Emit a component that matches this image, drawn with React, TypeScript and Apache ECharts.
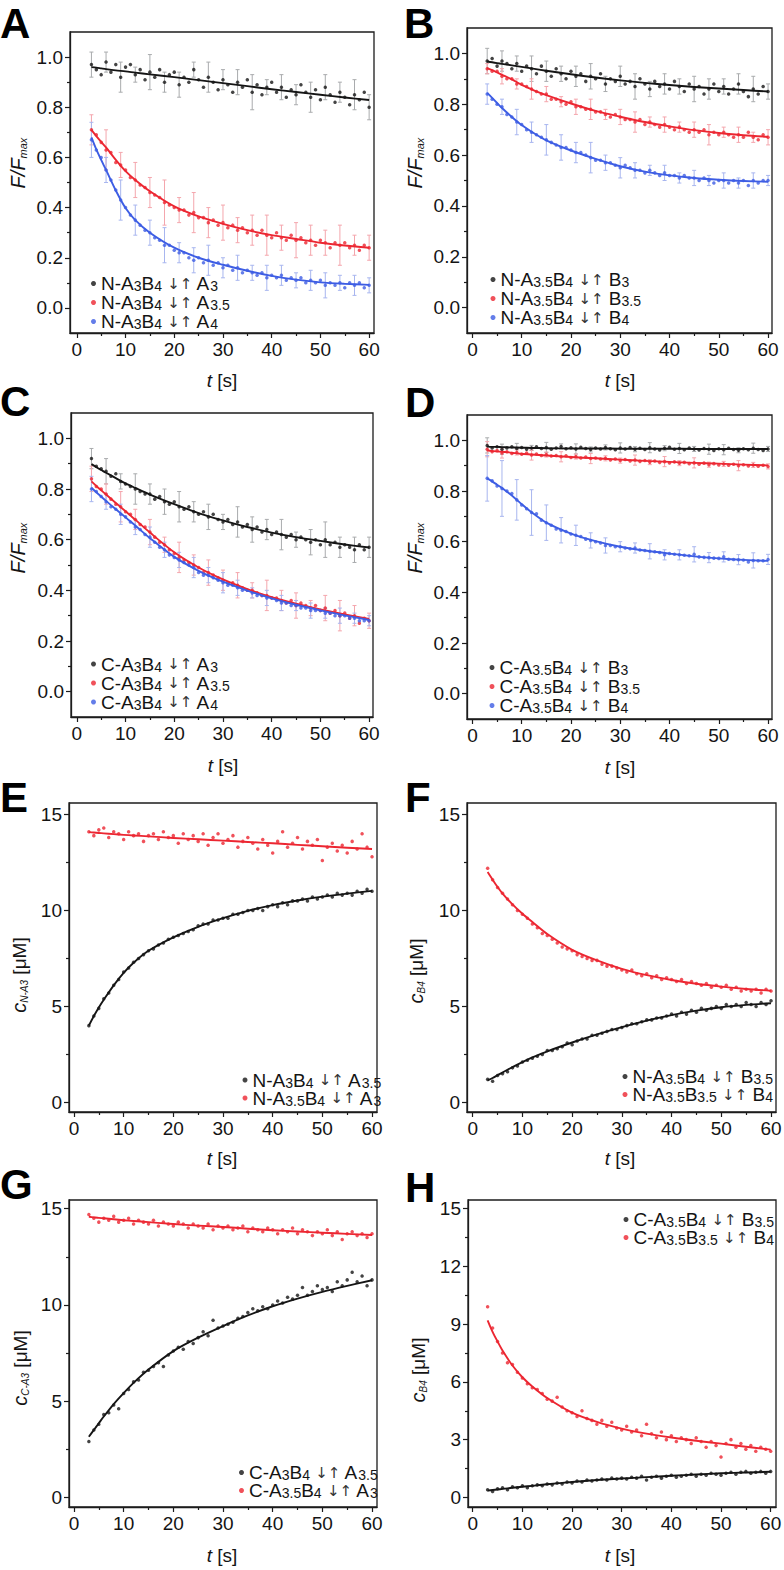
import React, { useEffect, useRef } from "react";
import * as echarts from "echarts";

const FONT = "'Liberation Sans', Arial, Helvetica, sans-serif";
const AXIS_COLOR = "#1c1c1c";
const LABEL_COLOR = "#141414";
const BLACK = "#151515";
const RED = "#ec2631";
const BLUE = "#3d5de4";
const BLACK_ERR = "#a9abad";
const RED_ERR = "#f4a6ad";
const BLUE_ERR = "#a8b6ef";

// time points of the measured data (s)
const T = [3, 4, 5, 6, 7, 8, 9, 10, 11, 12, 13, 14, 15, 16, 17, 18, 19, 20, 21, 22, 23, 24, 25, 26, 27, 28, 29, 30, 31, 32, 33, 34, 35, 36, 37, 38, 39, 40, 41, 42, 43, 44, 45, 46, 47, 48, 49, 50, 51, 52, 53, 54, 55, 56, 57, 58, 59, 60];
// time points at which the fitted curves are read
const FIT_T = [3, 4, 5, 6, 8, 10, 12, 15, 20, 25, 30, 35, 40, 45, 50, 55, 60];

const X_TICKS = [0, 10, 20, 30, 40, 50, 60];
const X_MINOR = [5, 15, 25, 35, 45, 55];
const Y_TICKS_F = [0, 0.2, 0.4, 0.6, 0.8, 1.0];
const Y_MINOR_F = [0.1, 0.3, 0.5, 0.7, 0.9];
const Y_TICKS_C = [0, 5, 10, 15];
const Y_MINOR_C = [2.5, 7.5, 12.5];
const Y_TICKS_H = [0, 3, 6, 9, 12, 15];
const Y_MINOR_H = [1.5, 4.5, 7.5, 10.5, 13.5];

// ---------- Panel A ----------
const A_BLACK = [0.97, 0.95, 0.93, 0.98, 0.94, 0.97, 0.92, 0.96, 0.97, 0.93, 0.95, 0.91, 0.94, 0.92, 0.95, 0.90, 0.93, 0.94, 0.89, 0.92, 0.90, 0.95, 0.91, 0.88, 0.92, 0.90, 0.87, 0.91, 0.89, 0.86, 0.90, 0.88, 0.91, 0.86, 0.89, 0.85, 0.88, 0.90, 0.86, 0.88, 0.84, 0.87, 0.85, 0.89, 0.86, 0.84, 0.87, 0.83, 0.88, 0.85, 0.82, 0.86, 0.84, 0.81, 0.85, 0.83, 0.86, 0.80];
const A_RED = [0.71, 0.69, 0.66, 0.63, 0.62, 0.58, 0.57, 0.55, 0.52, 0.51, 0.49, 0.48, 0.46, 0.45, 0.44, 0.42, 0.41, 0.40, 0.39, 0.39, 0.37, 0.38, 0.36, 0.36, 0.34, 0.35, 0.33, 0.34, 0.32, 0.33, 0.31, 0.32, 0.30, 0.31, 0.29, 0.31, 0.29, 0.28, 0.30, 0.28, 0.27, 0.29, 0.27, 0.28, 0.26, 0.27, 0.25, 0.27, 0.26, 0.24, 0.26, 0.25, 0.26, 0.24, 0.25, 0.23, 0.25, 0.24];
const A_BLUE = [0.67, 0.63, 0.60, 0.55, 0.51, 0.47, 0.43, 0.40, 0.37, 0.35, 0.33, 0.31, 0.30, 0.28, 0.27, 0.25, 0.25, 0.23, 0.22, 0.22, 0.20, 0.19, 0.20, 0.18, 0.19, 0.17, 0.18, 0.16, 0.17, 0.15, 0.16, 0.14, 0.15, 0.14, 0.13, 0.14, 0.12, 0.13, 0.12, 0.13, 0.11, 0.12, 0.11, 0.12, 0.10, 0.11, 0.10, 0.11, 0.09, 0.10, 0.09, 0.10, 0.08, 0.10, 0.09, 0.10, 0.08, 0.09];
const A_BLACK_FIT = [0.960, 0.958, 0.955, 0.952, 0.947, 0.943, 0.938, 0.931, 0.920, 0.908, 0.896, 0.884, 0.872, 0.861, 0.850, 0.839, 0.829];
const A_RED_FIT = [0.71, 0.685, 0.662, 0.64, 0.59, 0.545, 0.51, 0.465, 0.405, 0.365, 0.335, 0.31, 0.29, 0.275, 0.26, 0.249, 0.24];
const A_BLUE_FIT = [0.68, 0.632, 0.59, 0.55, 0.468, 0.398, 0.35, 0.30, 0.24, 0.20, 0.172, 0.148, 0.128, 0.113, 0.102, 0.096, 0.092];
const A_BLACK_ERR = [0.05, 0.04, 0.06, 0.03, 0.07, 0.04, 0.05, 0.03, 0.06, 0.04, 0.05, 0.07, 0.03, 0.05, 0.04, 0.06, 0.05, 0.04, 0.06, 0.05];
const A_RED_ERR = [0.06, 0.08, 0.05, 0.07, 0.06, 0.09, 0.05, 0.08, 0.06, 0.07, 0.05, 0.06, 0.08, 0.05, 0.07, 0.06, 0.05, 0.08, 0.04, 0.05];
const A_BLUE_ERR = [0.07, 0.05, 0.08, 0.06, 0.05, 0.07, 0.04, 0.05, 0.06, 0.04, 0.05, 0.03, 0.05, 0.04, 0.03, 0.04, 0.05, 0.03, 0.04, 0.03];

// ---------- Panel B ----------
const B_BLACK = [0.97, 0.98, 0.95, 0.97, 0.96, 0.94, 0.96, 0.93, 0.95, 0.94, 0.92, 0.95, 0.93, 0.91, 0.94, 0.92, 0.90, 0.93, 0.91, 0.92, 0.89, 0.91, 0.90, 0.92, 0.88, 0.90, 0.89, 0.91, 0.88, 0.89, 0.87, 0.90, 0.88, 0.86, 0.89, 0.87, 0.88, 0.86, 0.89, 0.87, 0.85, 0.88, 0.86, 0.87, 0.84, 0.86, 0.88, 0.85, 0.87, 0.84, 0.86, 0.88, 0.85, 0.83, 0.86, 0.84, 0.87, 0.85];
const B_RED = [0.94, 0.93, 0.93, 0.91, 0.90, 0.90, 0.88, 0.88, 0.87, 0.86, 0.85, 0.84, 0.84, 0.82, 0.82, 0.81, 0.80, 0.81, 0.79, 0.79, 0.78, 0.78, 0.77, 0.77, 0.76, 0.75, 0.76, 0.75, 0.74, 0.74, 0.73, 0.74, 0.72, 0.73, 0.72, 0.71, 0.72, 0.71, 0.70, 0.71, 0.70, 0.69, 0.70, 0.69, 0.70, 0.68, 0.69, 0.68, 0.69, 0.68, 0.67, 0.68, 0.67, 0.69, 0.67, 0.66, 0.68, 0.67];
const B_BLUE = [0.84, 0.82, 0.80, 0.79, 0.76, 0.75, 0.73, 0.72, 0.70, 0.69, 0.68, 0.67, 0.66, 0.65, 0.64, 0.63, 0.63, 0.62, 0.61, 0.61, 0.60, 0.59, 0.58, 0.58, 0.57, 0.57, 0.56, 0.55, 0.56, 0.55, 0.54, 0.54, 0.53, 0.54, 0.53, 0.52, 0.53, 0.52, 0.52, 0.51, 0.52, 0.51, 0.51, 0.50, 0.51, 0.50, 0.49, 0.50, 0.50, 0.49, 0.50, 0.49, 0.50, 0.48, 0.50, 0.49, 0.50, 0.50];
const B_BLACK_FIT = [0.968, 0.965, 0.962, 0.959, 0.953, 0.947, 0.941, 0.932, 0.918, 0.905, 0.894, 0.884, 0.876, 0.868, 0.862, 0.856, 0.85];
const B_RED_FIT = [0.942, 0.934, 0.925, 0.916, 0.898, 0.876, 0.859, 0.836, 0.803, 0.774, 0.751, 0.73, 0.713, 0.698, 0.687, 0.678, 0.672];
const B_BLUE_FIT = [0.845, 0.825, 0.805, 0.785, 0.75, 0.718, 0.692, 0.658, 0.618, 0.585, 0.556, 0.535, 0.52, 0.51, 0.503, 0.498, 0.495];
const B_BLACK_ERR = [0.05, 0.04, 0.03, 0.05, 0.04, 0.03, 0.04, 0.05, 0.03, 0.04, 0.05, 0.03, 0.04, 0.03, 0.05, 0.04, 0.03, 0.04, 0.05, 0.03];
const B_RED_ERR = [0.02, 0.03, 0.02, 0.04, 0.03, 0.02, 0.03, 0.04, 0.02, 0.03, 0.04, 0.02, 0.03, 0.02, 0.03, 0.04, 0.02, 0.03, 0.02, 0.03];
const B_BLUE_ERR = [0.04, 0.03, 0.05, 0.04, 0.06, 0.05, 0.04, 0.06, 0.03, 0.04, 0.03, 0.02, 0.03, 0.02, 0.03, 0.02, 0.03, 0.02, 0.03, 0.02];

// ---------- Panel C ----------
const C_BLACK = [0.92, 0.89, 0.88, 0.87, 0.85, 0.86, 0.83, 0.82, 0.81, 0.80, 0.79, 0.78, 0.78, 0.76, 0.77, 0.75, 0.74, 0.75, 0.73, 0.72, 0.73, 0.71, 0.70, 0.71, 0.69, 0.70, 0.68, 0.67, 0.68, 0.66, 0.67, 0.65, 0.66, 0.64, 0.65, 0.63, 0.64, 0.62, 0.63, 0.62, 0.61, 0.62, 0.60, 0.61, 0.60, 0.59, 0.60, 0.58, 0.60, 0.58, 0.59, 0.57, 0.58, 0.57, 0.56, 0.58, 0.56, 0.57];
const C_RED = [0.84, 0.81, 0.80, 0.78, 0.76, 0.74, 0.73, 0.71, 0.70, 0.68, 0.66, 0.65, 0.63, 0.61, 0.59, 0.58, 0.56, 0.545, 0.53, 0.52, 0.51, 0.50, 0.49, 0.47, 0.47, 0.46, 0.45, 0.44, 0.43, 0.43, 0.42, 0.41, 0.40, 0.40, 0.39, 0.38, 0.38, 0.37, 0.37, 0.36, 0.35, 0.36, 0.34, 0.35, 0.34, 0.33, 0.34, 0.32, 0.33, 0.31, 0.32, 0.30, 0.31, 0.29, 0.30, 0.27, 0.29, 0.28];
const C_BLUE = [0.80, 0.79, 0.77, 0.75, 0.73, 0.72, 0.70, 0.69, 0.67, 0.65, 0.64, 0.62, 0.61, 0.59, 0.57, 0.56, 0.54, 0.53, 0.52, 0.51, 0.50, 0.49, 0.47, 0.46, 0.46, 0.45, 0.44, 0.43, 0.42, 0.42, 0.41, 0.40, 0.40, 0.39, 0.38, 0.38, 0.37, 0.37, 0.36, 0.35, 0.35, 0.34, 0.34, 0.33, 0.33, 0.32, 0.32, 0.32, 0.31, 0.31, 0.30, 0.30, 0.30, 0.29, 0.29, 0.28, 0.28, 0.28];
const C_BLACK_FIT = [0.898, 0.886, 0.875, 0.864, 0.843, 0.822, 0.804, 0.778, 0.74, 0.705, 0.676, 0.65, 0.628, 0.61, 0.595, 0.581, 0.569];
const C_RED_FIT = [0.83, 0.812, 0.795, 0.778, 0.745, 0.712, 0.679, 0.628, 0.55, 0.49, 0.443, 0.405, 0.373, 0.347, 0.325, 0.305, 0.287];
const C_BLUE_FIT = [0.805, 0.787, 0.77, 0.753, 0.72, 0.688, 0.656, 0.606, 0.532, 0.477, 0.434, 0.399, 0.368, 0.343, 0.321, 0.301, 0.283];
const C_BLACK_ERR = [0.04, 0.05, 0.03, 0.06, 0.04, 0.05, 0.06, 0.04, 0.05, 0.03, 0.06, 0.05, 0.04, 0.06, 0.03, 0.05, 0.07, 0.04, 0.05, 0.04];
const C_RED_ERR = [0.05, 0.04, 0.06, 0.04, 0.05, 0.03, 0.06, 0.04, 0.05, 0.04, 0.05, 0.03, 0.06, 0.04, 0.05, 0.03, 0.05, 0.06, 0.04, 0.03];
const C_BLUE_ERR = [0.05, 0.03, 0.04, 0.03, 0.04, 0.03, 0.03, 0.04, 0.03, 0.04, 0.03, 0.02, 0.03, 0.03, 0.02, 0.03, 0.02, 0.03, 0.02, 0.02];

// ---------- Panel D ----------
const D_BLACK = [0.98, 0.97, 0.975, 0.965, 0.97, 0.975, 0.968, 0.972, 0.965, 0.97, 0.975, 0.968, 0.972, 0.965, 0.97, 0.976, 0.967, 0.971, 0.966, 0.973, 0.968, 0.964, 0.97, 0.966, 0.972, 0.967, 0.963, 0.97, 0.966, 0.972, 0.965, 0.969, 0.964, 0.971, 0.966, 0.962, 0.969, 0.973, 0.965, 0.968, 0.963, 0.97, 0.966, 0.962, 0.968, 0.965, 0.96, 0.967, 0.963, 0.969, 0.964, 0.961, 0.967, 0.963, 0.969, 0.964, 0.96, 0.966];
const D_RED = [0.965, 0.955, 0.96, 0.95, 0.955, 0.948, 0.952, 0.945, 0.95, 0.942, 0.946, 0.94, 0.944, 0.938, 0.94, 0.935, 0.939, 0.932, 0.936, 0.93, 0.934, 0.928, 0.93, 0.926, 0.929, 0.922, 0.926, 0.92, 0.924, 0.918, 0.922, 0.917, 0.92, 0.914, 0.918, 0.913, 0.916, 0.911, 0.915, 0.91, 0.913, 0.908, 0.911, 0.906, 0.91, 0.904, 0.908, 0.903, 0.907, 0.902, 0.906, 0.9, 0.904, 0.899, 0.903, 0.898, 0.902, 0.897];
const D_BLUE = [0.85, 0.84, 0.82, 0.81, 0.80, 0.79, 0.765, 0.745, 0.73, 0.715, 0.71, 0.685, 0.675, 0.665, 0.65, 0.645, 0.64, 0.63, 0.625, 0.62, 0.61, 0.605, 0.60, 0.595, 0.585, 0.585, 0.58, 0.58, 0.575, 0.572, 0.575, 0.567, 0.565, 0.562, 0.56, 0.557, 0.548, 0.553, 0.55, 0.548, 0.546, 0.544, 0.55, 0.54, 0.538, 0.537, 0.535, 0.534, 0.54, 0.531, 0.53, 0.529, 0.528, 0.52, 0.526, 0.525, 0.525, 0.53];
const D_BLACK_FIT = [0.975, 0.974, 0.974, 0.973, 0.972, 0.971, 0.97, 0.969, 0.968, 0.968, 0.967, 0.967, 0.967, 0.966, 0.966, 0.966, 0.966];
const D_RED_FIT = [0.96, 0.958, 0.956, 0.955, 0.951, 0.947, 0.944, 0.94, 0.934, 0.929, 0.924, 0.919, 0.915, 0.911, 0.908, 0.904, 0.901];
const D_BLUE_FIT = [0.85, 0.838, 0.825, 0.812, 0.782, 0.748, 0.716, 0.675, 0.632, 0.602, 0.58, 0.565, 0.553, 0.542, 0.534, 0.528, 0.524];
const D_BLACK_ERR = [0.03, 0.02, 0.02, 0.01, 0.02, 0.01, 0.02, 0.01, 0.01, 0.02, 0.01, 0.02, 0.01, 0.02, 0.01, 0.02, 0.02, 0.01, 0.02, 0.01];
const D_RED_ERR = [0.03, 0.02, 0.01, 0.02, 0.01, 0.02, 0.01, 0.02, 0.01, 0.01, 0.02, 0.01, 0.02, 0.01, 0.02, 0.01, 0.01, 0.02, 0.01, 0.01];
const D_BLUE_ERR = [0.09, 0.11, 0.08, 0.09, 0.07, 0.05, 0.04, 0.03, 0.03, 0.02, 0.02, 0.03, 0.02, 0.02, 0.03, 0.02, 0.02, 0.02, 0.03, 0.02];

// ---------- Panel E ----------
const E_BLACK = [4.0, 4.5, 4.9, 5.4, 5.7, 6.1, 6.4, 6.8, 7.0, 7.3, 7.5, 7.7, 7.9, 8.0, 8.2, 8.3, 8.5, 8.6, 8.7, 8.8, 8.9, 9.0, 9.2, 9.3, 9.3, 9.5, 9.5, 9.6, 9.6, 9.8, 9.8, 9.9, 10.0, 10.0, 10.1, 10.0, 10.2, 10.3, 10.2, 10.4, 10.3, 10.5, 10.5, 10.6, 10.5, 10.7, 10.6, 10.7, 10.8, 10.7, 10.9, 10.8, 10.9, 10.8, 11.0, 10.9, 11.1, 11.0];
const E_RED = [14.1, 13.9, 14.2, 14.3, 13.8, 14.1, 14.0, 13.7, 14.1, 13.9, 14.0, 13.6, 13.9, 14.0, 13.7, 14.1, 13.8, 13.9, 13.5, 14.0, 13.7, 13.9, 13.6, 14.0, 13.4, 13.8, 14.0, 13.5, 13.7, 13.9, 13.3, 13.6, 13.8, 13.5, 13.2, 13.7, 13.4, 13.0, 13.6, 14.1, 13.3, 13.5, 13.8, 13.2, 13.6, 13.4, 13.7, 12.6, 13.3, 13.5, 13.1, 13.4, 13.0, 13.6, 13.2, 14.0, 13.3, 12.8];
const E_BLACK_FIT = [4.0, 4.5, 4.95, 5.35, 6.1, 6.75, 7.28, 7.9, 8.6, 9.15, 9.6, 9.98, 10.28, 10.52, 10.72, 10.88, 11.02];
const E_RED_FIT = [14.08, 14.06, 14.04, 14.02, 13.98, 13.94, 13.91, 13.86, 13.78, 13.71, 13.64, 13.57, 13.5, 13.42, 13.35, 13.27, 13.2];

// ---------- Panel F ----------
const F_BLACK = [1.2, 1.1, 1.4, 1.5, 1.6, 1.8, 1.9, 2.1, 2.2, 2.3, 2.4, 2.5, 2.7, 2.7, 2.8, 2.9, 3.1, 3.0, 3.2, 3.3, 3.3, 3.5, 3.5, 3.6, 3.7, 3.8, 3.8, 3.9, 4.0, 4.1, 4.1, 4.2, 4.3, 4.3, 4.4, 4.4, 4.5, 4.6, 4.5, 4.7, 4.6, 4.8, 4.7, 4.9, 4.8, 4.9, 5.0, 4.9, 5.1, 5.0, 5.1, 5.0, 5.2, 5.1, 5.0, 5.2, 5.1, 5.3];
const F_RED = [12.2, 11.6, 11.2, 10.9, 10.6, 10.3, 10.0, 9.8, 9.6, 9.3, 9.1, 8.8, 8.7, 8.5, 8.3, 8.1, 8.0, 7.9, 7.7, 7.6, 7.5, 7.4, 7.4, 7.2, 7.1, 7.1, 7.0, 6.9, 6.8, 6.9, 6.7, 6.6, 6.7, 6.5, 6.6, 6.4, 6.5, 6.4, 6.3, 6.4, 6.2, 6.3, 6.2, 6.1, 6.2, 6.0, 6.1, 6.0, 6.1, 5.9, 6.0, 5.8, 5.9, 5.8, 5.9, 5.7, 5.9, 5.8];
const F_BLACK_FIT = [1.15, 1.27, 1.42, 1.56, 1.84, 2.1, 2.34, 2.66, 3.12, 3.54, 3.92, 4.26, 4.55, 4.78, 4.96, 5.08, 5.17];
const F_RED_FIT = [12.0, 11.6, 11.22, 10.88, 10.32, 9.83, 9.4, 8.77, 7.95, 7.4, 6.96, 6.63, 6.38, 6.18, 6.03, 5.91, 5.82];

// ---------- Panel G ----------
const G_BLACK = [2.9, 3.5, 3.8, 4.3, 4.4, 4.8, 4.6, 5.4, 5.6, 6.0, 6.1, 6.5, 6.6, 6.8, 7.0, 6.8, 7.4, 7.6, 7.8, 7.7, 8.1, 8.0, 8.3, 8.6, 8.4, 9.2, 8.8, 8.9, 9.0, 9.1, 9.3, 9.4, 9.6, 9.8, 9.7, 9.9, 9.8, 10.0, 10.2, 10.1, 10.4, 10.3, 10.5, 10.9, 10.5, 10.7, 11.0, 10.8, 10.9, 10.7, 11.2, 11.0, 11.3, 11.7, 11.2, 11.5, 11.0, 11.3];
const G_RED = [14.7, 14.5, 14.3, 14.5, 14.4, 14.6, 14.3, 14.4, 14.5, 14.2, 14.4, 14.3, 14.2, 14.4, 14.1, 14.3, 14.2, 14.1, 14.3, 14.2, 14.0, 14.2, 14.1, 14.0, 14.2, 13.9, 14.1, 14.0, 14.1, 13.9, 14.0, 14.1, 13.8, 14.0, 13.9, 13.8, 14.0, 13.9, 13.7, 13.9, 13.8, 14.0, 13.7, 13.9, 13.8, 13.6, 13.8, 13.7, 13.9, 13.6, 13.8, 13.4, 13.7, 13.8, 13.6, 13.7, 13.5, 13.7];
const G_BLACK_FIT = [3.15, 3.5, 3.85, 4.2, 4.85, 5.42, 5.95, 6.64, 7.6, 8.3, 8.9, 9.45, 9.93, 10.33, 10.68, 10.99, 11.28];
const G_RED_FIT = [14.58, 14.55, 14.52, 14.5, 14.45, 14.4, 14.36, 14.3, 14.2, 14.12, 14.05, 13.96, 13.88, 13.81, 13.75, 13.69, 13.63];

// ---------- Panel H ----------
const H_BLACK = [0.4, 0.3, 0.45, 0.5, 0.4, 0.55, 0.5, 0.6, 0.5, 0.6, 0.65, 0.6, 0.7, 0.65, 0.75, 0.7, 0.8, 0.75, 0.85, 0.8, 0.9, 0.85, 0.9, 0.95, 0.9, 1.0, 0.95, 1.0, 0.95, 1.05, 1.0, 1.1, 0.9, 1.05, 1.1, 1.0, 1.1, 1.15, 1.05, 1.1, 1.15, 1.2, 1.1, 1.2, 1.15, 1.25, 1.2, 1.15, 1.25, 1.3, 1.2, 1.3, 1.35, 1.25, 1.3, 1.35, 1.25, 1.35];
const H_RED = [9.9, 8.8, 8.1, 7.5, 7.0, 6.9, 6.5, 6.2, 5.9, 5.7, 5.6, 5.4, 5.1, 5.0, 5.2, 4.7, 4.5, 4.4, 4.2, 4.5, 4.1, 4.0, 3.8, 4.0, 3.7, 3.9, 3.6, 3.5, 3.7, 3.4, 3.5, 3.2, 3.8, 3.3, 3.1, 3.4, 3.0, 3.2, 2.9, 3.1, 3.0, 2.8, 3.1, 2.9, 2.6, 2.9, 2.7, 2.1, 2.8, 3.0, 2.6, 2.8, 2.5, 2.7, 2.4, 2.6, 2.5, 2.4];
const H_BLACK_FIT = [0.35, 0.38, 0.41, 0.44, 0.5, 0.55, 0.6, 0.68, 0.8, 0.9, 0.98, 1.05, 1.12, 1.19, 1.25, 1.29, 1.33];
const H_RED_FIT = [9.2, 8.6, 8.1, 7.63, 6.85, 6.24, 5.76, 5.16, 4.4, 3.92, 3.57, 3.31, 3.11, 2.94, 2.79, 2.63, 2.48];

// ---------- legend labels (rich text) ----------
const LEGEND_TEXT: Record<string, string> = {
  A1: "N-A{s|3}B{s|4} {r|↓↑} A{s|3}",
  A2: "N-A{s|3}B{s|4} {r|↓↑} A{s|3.5}",
  A3: "N-A{s|3}B{s|4} {r|↓↑} A{s|4}",
  B1: "N-A{s|3.5}B{s|4} {r|↓↑} B{s|3}",
  B2: "N-A{s|3.5}B{s|4} {r|↓↑} B{s|3.5}",
  B3: "N-A{s|3.5}B{s|4} {r|↓↑} B{s|4}",
  C1: "C-A{s|3}B{s|4} {r|↓↑} A{s|3}",
  C2: "C-A{s|3}B{s|4} {r|↓↑} A{s|3.5}",
  C3: "C-A{s|3}B{s|4} {r|↓↑} A{s|4}",
  D1: "C-A{s|3.5}B{s|4} {r|↓↑} B{s|3}",
  D2: "C-A{s|3.5}B{s|4} {r|↓↑} B{s|3.5}",
  D3: "C-A{s|3.5}B{s|4} {r|↓↑} B{s|4}",
  E1: "N-A{s|3}B{s|4} {r|↓↑} A{s|3.5}",
  E2: "N-A{s|3.5}B{s|4} {r|↓↑} A{s|3}",
  F1: "N-A{s|3.5}B{s|4} {r|↓↑} B{s|3.5}",
  F2: "N-A{s|3.5}B{s|3.5} {r|↓↑} B{s|4}",
  G1: "C-A{s|3}B{s|4} {r|↓↑} A{s|3.5}",
  G2: "C-A{s|3.5}B{s|4} {r|↓↑} A{s|3}",
  H1: "C-A{s|3.5}B{s|4} {r|↓↑} B{s|3.5}",
  H2: "C-A{s|3.5}B{s|3.5} {r|↓↑} B{s|4}",
};

type S = { name: string; color: string; errColor?: string; pts: number[]; fit: number[]; err?: number[] };
type P = {
  key: string; box: number[]; xr: number[]; yr: number[]; yTicks: number[]; yMinor: number[]; dec: number;
  series: S[]; legend: { left: number; top: number; gap: number }; letter: number[]; xTitle: number[];
  yTitle: { x: number; y: number; kind: string; sub?: string };
};

const PANELS: P[] = [
  {
    key: "A", box: [70, 32, 304, 301], xr: [-1.4, 61], yr: [-0.1, 1.1], yTicks: Y_TICKS_F, yMinor: Y_MINOR_F, dec: 1,
    series: [
      { name: "A1", color: BLACK, errColor: BLACK_ERR, pts: A_BLACK, fit: A_BLACK_FIT, err: A_BLACK_ERR },
      { name: "A2", color: RED, errColor: RED_ERR, pts: A_RED, fit: A_RED_FIT, err: A_RED_ERR },
      { name: "A3", color: BLUE, errColor: BLUE_ERR, pts: A_BLUE, fit: A_BLUE_FIT, err: A_BLUE_ERR },
    ],
    legend: { left: 91, top: 274, gap: 0 }, letter: [0, 23], xTitle: [222, 380], yTitle: { x: 18, y: 163, kind: "F" },
  },
  {
    key: "B", box: [467, 28, 305, 305], xr: [-1.1, 60.8], yr: [-0.1, 1.1], yTicks: Y_TICKS_F, yMinor: Y_MINOR_F, dec: 1,
    series: [
      { name: "B1", color: BLACK, errColor: BLACK_ERR, pts: B_BLACK, fit: B_BLACK_FIT, err: B_BLACK_ERR },
      { name: "B2", color: RED, errColor: RED_ERR, pts: B_RED, fit: B_RED_FIT, err: B_RED_ERR },
      { name: "B3", color: BLUE, errColor: BLUE_ERR, pts: B_BLUE, fit: B_BLUE_FIT, err: B_BLUE_ERR },
    ],
    legend: { left: 490.5, top: 270, gap: 0 }, letter: [404, 23], xTitle: [620, 380], yTitle: { x: 415, y: 163, kind: "F" },
  },
  {
    key: "C", box: [71, 413, 302, 304], xr: [-1.2, 60.8], yr: [-0.1, 1.1], yTicks: Y_TICKS_F, yMinor: Y_MINOR_F, dec: 1,
    series: [
      { name: "C1", color: BLACK, errColor: BLACK_ERR, pts: C_BLACK, fit: C_BLACK_FIT, err: C_BLACK_ERR },
      { name: "C2", color: RED, errColor: RED_ERR, pts: C_RED, fit: C_RED_FIT, err: C_RED_ERR },
      { name: "C3", color: BLUE, errColor: BLUE_ERR, pts: C_BLUE, fit: C_BLUE_FIT, err: C_BLUE_ERR },
    ],
    legend: { left: 91, top: 654.5, gap: 0 }, letter: [0, 401], xTitle: [223, 765], yTitle: { x: 18, y: 548, kind: "F" },
  },
  {
    key: "D", box: [467, 415, 305, 304], xr: [-1.1, 60.8], yr: [-0.1, 1.1], yTicks: Y_TICKS_F, yMinor: Y_MINOR_F, dec: 1,
    series: [
      { name: "D1", color: BLACK, errColor: BLACK_ERR, pts: D_BLACK, fit: D_BLACK_FIT, err: D_BLACK_ERR },
      { name: "D2", color: RED, errColor: RED_ERR, pts: D_RED, fit: D_RED_FIT, err: D_RED_ERR },
      { name: "D3", color: BLUE, errColor: BLUE_ERR, pts: D_BLUE, fit: D_BLUE_FIT, err: D_BLUE_ERR },
    ],
    legend: { left: 489.5, top: 658, gap: 0 }, letter: [405, 402], xTitle: [620, 767], yTitle: { x: 415, y: 548, kind: "F" },
  },
  {
    key: "E", box: [69, 803, 308, 309], xr: [-1, 61], yr: [-0.5, 15.6], yTicks: Y_TICKS_C, yMinor: Y_MINOR_C, dec: 0,
    series: [
      { name: "E1", color: BLACK, pts: E_BLACK, fit: E_BLACK_FIT },
      { name: "E2", color: RED, pts: E_RED, fit: E_RED_FIT },
    ],
    legend: { left: 242.5, top: 1070.5, gap: -1 }, letter: [0, 797], xTitle: [222, 1158], yTitle: { x: 19, y: 975, kind: "c", sub: "N-A3" },
  },
  {
    key: "F", box: [467, 803, 309, 309], xr: [-1.15, 61], yr: [-0.5, 15.6], yTicks: Y_TICKS_C, yMinor: Y_MINOR_C, dec: 0,
    series: [
      { name: "F1", color: BLACK, pts: F_BLACK, fit: F_BLACK_FIT },
      { name: "F2", color: RED, pts: F_RED, fit: F_RED_FIT },
    ],
    legend: { left: 622.5, top: 1067, gap: -1 }, letter: [405, 797], xTitle: [620, 1158], yTitle: { x: 416, y: 971, kind: "c", sub: "B4" },
  },
  {
    key: "G", box: [69, 1200, 308, 307], xr: [-1, 61], yr: [-0.5, 15.45], yTicks: Y_TICKS_C, yMinor: Y_MINOR_C, dec: 0,
    series: [
      { name: "G1", color: BLACK, pts: G_BLACK, fit: G_BLACK_FIT },
      { name: "G2", color: RED, pts: G_RED, fit: G_RED_FIT },
    ],
    legend: { left: 239, top: 1463, gap: -1 }, letter: [0, 1184], xTitle: [222, 1555], yTitle: { x: 20, y: 1368, kind: "c", sub: "C-A3" },
  },
  {
    key: "H", box: [468, 1200, 308, 307], xr: [-0.95, 61.07], yr: [-0.5, 15.45], yTicks: Y_TICKS_H, yMinor: Y_MINOR_H, dec: 0,
    series: [
      { name: "H1", color: BLACK, pts: H_BLACK, fit: H_BLACK_FIT },
      { name: "H2", color: RED, pts: H_RED, fit: H_RED_FIT },
    ],
    legend: { left: 623.5, top: 1210, gap: -1 }, letter: [405, 1187], xTitle: [620, 1555], yTitle: { x: 418, y: 1370, kind: "c", sub: "B4" },
  },
];

function makeErrRender(color: string) {
  return (params: any, api: any) => {
    const t = api.value(0);
    const y = api.value(1);
    const e = api.value(2);
    const lo = api.coord([t, y - e]);
    const hi = api.coord([t, y + e]);
    const style = { stroke: color, lineWidth: 1 };
    return {
      type: "group",
      children: [
        { type: "line", shape: { x1: lo[0], y1: lo[1], x2: hi[0], y2: hi[1] }, style },
        { type: "line", shape: { x1: lo[0] - 2, y1: lo[1], x2: lo[0] + 2, y2: lo[1] }, style },
        { type: "line", shape: { x1: hi[0] - 2, y1: hi[1], x2: hi[0] + 2, y2: hi[1] }, style },
      ],
    };
  };
}

const tickLine = { color: AXIS_COLOR, width: 1.2 };

function buildOption() {
  const grid: any[] = [];
  const xAxis: any[] = [];
  const yAxis: any[] = [];
  const series: any[] = [];
  const legend: any[] = [];
  const graphic: any[] = [];

  PANELS.forEach((p, i) => {
    const xi = i * 2;
    const yi = i * 2;
    grid.push({
      left: p.box[0], top: p.box[1], width: p.box[2], height: p.box[3],
      show: true, borderColor: AXIS_COLOR, borderWidth: 1.3, backgroundColor: "transparent",
      containLabel: false, outerBoundsMode: "none",
    });
    xAxis.push({
      type: "value", gridIndex: i, min: p.xr[0], max: p.xr[1], position: "bottom",
      axisLine: { show: true, onZero: false, lineStyle: { color: AXIS_COLOR, width: 1.3 } },
      axisTick: { show: true, customValues: X_TICKS, length: 5, inside: false, lineStyle: tickLine },
      axisLabel: { show: true, customValues: X_TICKS, margin: 7, fontSize: 19, color: LABEL_COLOR, fontFamily: FONT },
      splitLine: { show: false },
    });
    xAxis.push({
      type: "value", gridIndex: i, min: p.xr[0], max: p.xr[1], position: "bottom",
      axisLine: { show: false, onZero: false },
      axisTick: { show: true, customValues: X_MINOR, length: 3, inside: false, lineStyle: tickLine },
      axisLabel: { show: false },
      splitLine: { show: false },
    });
    yAxis.push({
      type: "value", gridIndex: i, min: p.yr[0], max: p.yr[1], position: "left",
      axisLine: { show: true, onZero: false, lineStyle: { color: AXIS_COLOR, width: 1.3 } },
      axisTick: { show: true, customValues: p.yTicks, length: 5, inside: false, lineStyle: tickLine },
      axisLabel: {
        show: true, customValues: p.yTicks, margin: 7, fontSize: 19, color: LABEL_COLOR, fontFamily: FONT,
        formatter: (v: number) => v.toFixed(p.dec),
      },
      splitLine: { show: false },
    });
    yAxis.push({
      type: "value", gridIndex: i, min: p.yr[0], max: p.yr[1], position: "left",
      axisLine: { show: false, onZero: false },
      axisTick: { show: true, customValues: p.yMinor, length: 3, inside: false, lineStyle: tickLine },
      axisLabel: { show: false },
      splitLine: { show: false },
    });

    p.series.forEach((s) => {
      if (s.err) {
        const errData: number[][] = [];
        T.forEach((t, j) => {
          if (j % 3 === 0) errData.push([t, s.pts[j], s.err![j / 3]]);
        });
        series.push({
          type: "custom", name: s.name + "-err", xAxisIndex: xi, yAxisIndex: yi,
          data: errData, renderItem: makeErrRender(s.errColor || "#aaa"), z: 2, silent: true,
        });
      }
      series.push({
        type: "scatter", name: s.name, xAxisIndex: xi, yAxisIndex: yi,
        data: T.map((t, j) => [t, s.pts[j]]), symbol: "circle", symbolSize: 3.5,
        itemStyle: { color: s.color }, z: 3, silent: true,
      });
      series.push({
        type: "line", name: s.name + "-fit", xAxisIndex: xi, yAxisIndex: yi,
        data: FIT_T.map((t, j) => [t, s.fit[j]]), smooth: 0.3,
        showSymbol: false, symbol: "none", lineStyle: { color: s.color, width: 1.9, join: "round" },
        itemStyle: { color: s.color }, z: 4, silent: true,
      });
    });

    legend.push({
      orient: "vertical", left: p.legend.left, top: p.legend.top, itemGap: p.legend.gap,
      itemWidth: 5, itemHeight: 5, icon: "circle", padding: 0, selectedMode: false,
      data: p.series.map((s) => s.name),
      formatter: (n: string) => LEGEND_TEXT[n],
      textStyle: {
        fontFamily: FONT, fontSize: 19, lineHeight: 19, color: LABEL_COLOR,
        rich: {
          s: { fontFamily: FONT, fontSize: 14, lineHeight: 7, verticalAlign: "bottom", color: LABEL_COLOR },
          r: { fontFamily: "'DejaVu Sans', sans-serif", fontSize: 15, color: "#333" },
        },
      },
    });

    graphic.push({
      type: "text", x: p.letter[0], y: p.letter[1], silent: true,
      style: {
        text: p.key, fontSize: 42, fontWeight: "bold", fontFamily: FONT, fill: "#000",
        verticalAlign: "middle", textVerticalAlign: "middle", align: "left", textAlign: "left",
      },
    });
    graphic.push({
      type: "text", x: p.xTitle[0], y: p.xTitle[1], silent: true,
      style: {
        text: "{i|t} [s]", fontSize: 19, fontFamily: FONT, fill: LABEL_COLOR, lineHeight: 20,
        align: "center", textAlign: "center", verticalAlign: "middle", textVerticalAlign: "middle",
        rich: { i: { fontSize: 19, fontStyle: "italic", fontFamily: FONT, fill: LABEL_COLOR, lineHeight: 20 } },
      },
    });
    const yt = p.yTitle;
    const ytText = yt.kind === "F" ? "{i|F/F}{m|max}" : `{i|c}{m|${yt.sub}}{n| [μM]}`;
    graphic.push({
      type: "text", x: yt.x, y: yt.y, rotation: Math.PI / 2, silent: true,
      style: {
        text: ytText, fontSize: 19, fontFamily: FONT, fill: LABEL_COLOR, lineHeight: 20,
        align: "center", textAlign: "center", verticalAlign: "middle", textVerticalAlign: "middle",
        rich: {
          i: { fontSize: 20, fontStyle: "italic", fontFamily: FONT, fill: LABEL_COLOR, lineHeight: 20 },
          m: { fontSize: yt.kind === "F" ? 11 : 10, fontStyle: "italic", fontFamily: FONT, fill: LABEL_COLOR, lineHeight: 2, verticalAlign: "bottom" },
          n: { fontSize: 19, fontFamily: FONT, fill: LABEL_COLOR, lineHeight: 20 },
        },
      },
    });
  });

  return {
    animation: false,
    backgroundColor: "#ffffff",
    grid, xAxis, yAxis, series, legend, graphic,
  };
}

export default function App() {
  const ref = useRef<HTMLDivElement>(null);
  useEffect(() => {
    document.body.style.margin = "0";
    const chart = echarts.init(ref.current!, null, { renderer: "svg", width: 784, height: 1570 });
    chart.setOption(buildOption() as any);
    return () => chart.dispose();
  }, []);
  return <div ref={ref} style={{ width: 784, height: 1570, position: "absolute", left: 0, top: 0, background: "#fff" }} />;
}
